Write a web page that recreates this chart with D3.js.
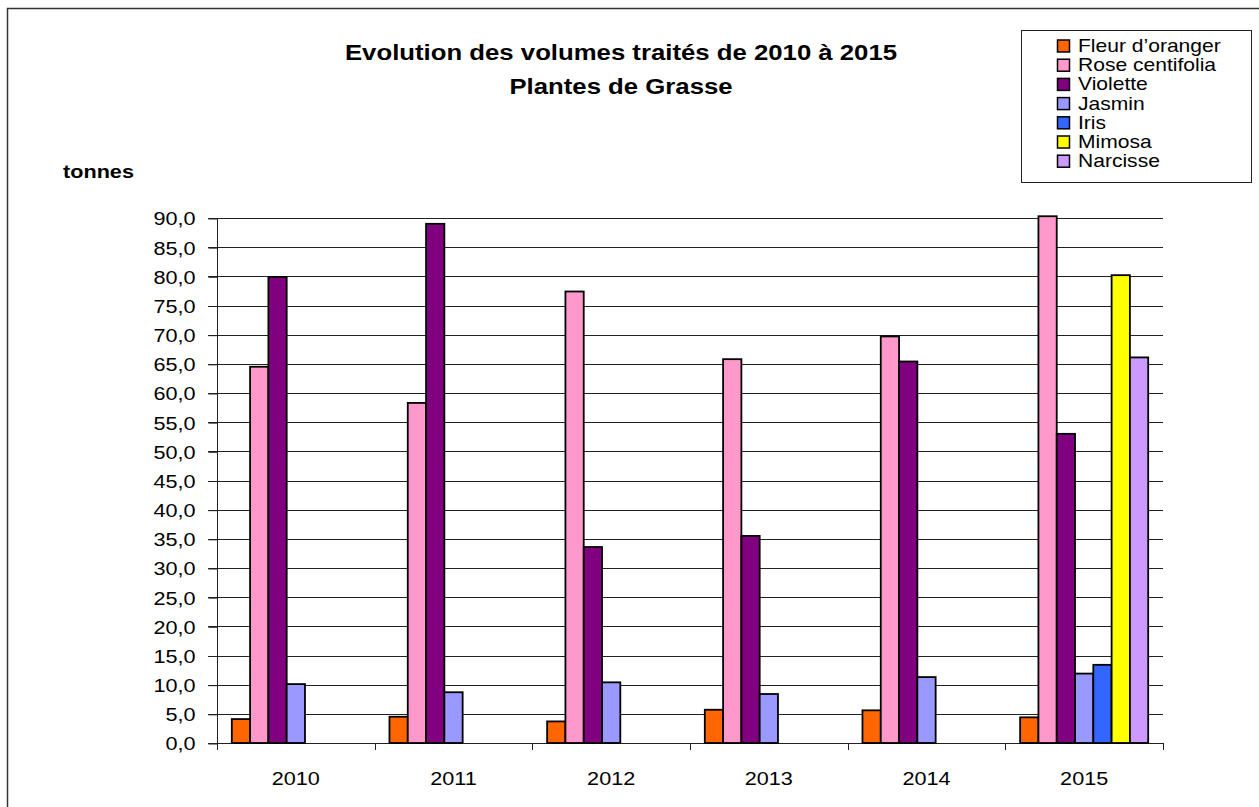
<!DOCTYPE html>
<html><head><meta charset="utf-8">
<script src="https://cdn.jsdelivr.net/npm/d3@7"></script>
<style>body{margin:0;background:#fff;} svg{display:block;font-family:Arial,"Liberation Sans",sans-serif;}</style>
</head><body>
<script>
const years = ["2010","2011","2012","2013","2014","2015"];
const seriesNames = ["Fleur d’oranger","Rose centifolia","Violette","Jasmin","Iris","Mimosa","Narcisse"];
const seriesColors = ["#FF6600","#FF99CC","#800080","#9999FF","#3366FF","#FFFF00","#CC99FF"];
const fleur    = [4.1, 4.5, 3.7, 5.7, 5.6, 4.4];
const rose     = [64.5, 58.3, 77.4, 65.8, 69.7, 90.3];
const violette = [79.9, 89.0, 33.6, 35.5, 65.4, 53.0];
const jasmin   = [10.1, 8.7, 10.4, 8.4, 11.3, 11.9];
const iris     = [null, null, null, null, null, 13.4];
const mimosa   = [null, null, null, null, null, 80.2];
const narcisse = [null, null, null, null, null, 66.1];
const yTicks = [0,5,10,15,20,25,30,35,40,45,50,55,60,65,70,75,80,85,90];
const titleLines = ["Evolution des volumes traités de 2010 à 2015","Plantes de Grasse"];
const yTitle = "tonnes";

const seriesValues = [fleur, rose, violette, jasmin, iris, mimosa, narcisse];
const W = 1259, H = 807, SX = 1.17;
const svg = d3.select("body").append("svg").attr("width", W).attr("height", H);

svg.append("rect").attr("x",7.5).attr("y",8.5).attr("width",1262).attr("height",812)
  .attr("fill","#fff").attr("stroke","#333").attr("stroke-width",1.5);

const x0 = d3.scaleBand().domain(years).range([217, 1163]).paddingInner(0).paddingOuter(0);
const bw = x0.bandwidth();
const x1 = d3.scaleBand().domain(seriesNames).range([14.8, bw - 14.8]).padding(0);
const y = d3.scaleLinear().domain([0, 90]).range([743, 218]);
const fmt = v => d3.format(".1f")(v).replace(".", ",");

// gridlines
svg.append("g").selectAll("line").data(yTicks).join("line")
  .attr("x1", 208).attr("x2", 1163)
  .attr("y1", d => Math.round(y(d)) + 0.5).attr("y2", d => Math.round(y(d)) + 0.5)
  .attr("stroke", "#222").attr("stroke-width", 1);

// y axis
const yAxis = svg.append("g").attr("transform","translate(217.5,0.5)")
  .call(d3.axisLeft(y).tickValues(yTicks).tickFormat(fmt).tickSize(9).tickPadding(0));
yAxis.select(".domain").attr("stroke","#222").attr("d","M0,"+(Math.round(y(90)))+"V"+(Math.round(y(0))+6));
yAxis.selectAll(".tick line").attr("stroke","#222");
yAxis.selectAll(".tick text").attr("font-size","18.5px").attr("fill","#000").attr("font-weight","normal")
  .attr("font-family","Arial, 'Liberation Sans', sans-serif")
  .attr("x", 0).attr("dy","0.35em")
  .attr("transform", "translate(-22,0) scale(" + SX + ",1)");

// x axis
const xAxis = svg.append("g").attr("transform","translate(0," + Math.round(y(0)) + ")")
  .call(d3.axisBottom(x0).tickSize(0).tickPadding(0));
xAxis.select(".domain").attr("stroke","#222").attr("d","M217,0.5H1163");
xAxis.selectAll(".tick text").attr("font-size","18.5px").attr("fill","#000").attr("font-weight","normal")
  .attr("font-family","Arial, 'Liberation Sans', sans-serif")
  .attr("y", 0).attr("dy", 0)
  .attr("transform","translate(0,42) scale(" + SX + ",1)");
// category boundary ticks
svg.append("g").selectAll("line").data(years.concat(["end"])).join("line")
  .attr("x1", (d,i) => Math.round(i < years.length ? x0(d) : x0(years[5]) + bw) + 0.5)
  .attr("x2", (d,i) => Math.round(i < years.length ? x0(d) : x0(years[5]) + bw) + 0.5)
  .attr("y1", y(0)).attr("y2", y(0) + 7)
  .attr("stroke","#222").attr("stroke-width",1);

// bars
const groups = svg.append("g").selectAll("g").data(years).join("g")
  .attr("transform", d => "translate(" + x0(d) + ",0)");
groups.selectAll("rect")
  .data((yr, i) => seriesNames.map((s, k) => ({s, k, v: seriesValues[k][i]})).filter(d => d.v != null))
  .join("rect")
  .attr("x", d => x1(d.s))
  .attr("width", x1.bandwidth())
  .attr("y", d => y(d.v))
  .attr("height", d => y(0) - y(d.v))
  .attr("fill", d => seriesColors[d.k])
  .attr("stroke", "#000").attr("stroke-width", 1.8);

// title
svg.append("g").selectAll("text").data(titleLines).join("text")
  .attr("transform", (d,i) => "translate(621," + (60 + i*34) + ") scale(" + SX + ",1)")
  .attr("text-anchor","middle").attr("font-size","22px").attr("font-weight","bold").attr("fill","#000")
  .text(d => d);

svg.append("text").attr("transform","translate(63,178) scale(" + SX + ",1)")
  .attr("font-size","18.5px").attr("font-weight","bold").attr("fill","#000").text(yTitle);

// legend
const lg = svg.append("g");
lg.append("rect").attr("x",1021.5).attr("y",30.5).attr("width",230).attr("height",152)
  .attr("fill","#fff").attr("stroke","#222").attr("stroke-width",1);
const items = lg.selectAll("g").data(seriesNames).join("g")
  .attr("transform", (d,i) => "translate(0," + (52 + i*19.2) + ")");
items.append("rect").attr("x",1057.5).attr("y",-12).attr("width",12).attr("height",12)
  .attr("fill",(d,i) => seriesColors[i]).attr("stroke","#000").attr("stroke-width",1.5);
items.append("text").attr("transform","translate(1078,0) scale(" + SX + ",1)")
  .attr("font-size","18px").attr("fill","#000").text(d => d);
</script>
</body></html>
